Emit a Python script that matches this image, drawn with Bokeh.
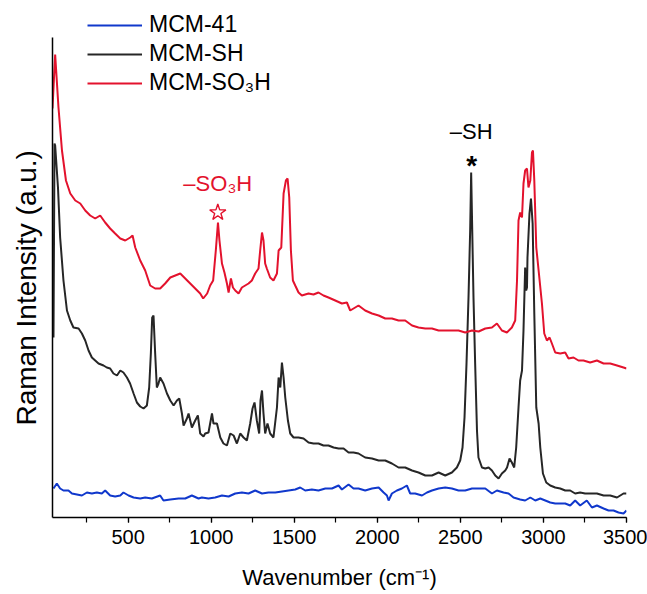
from bokeh.plotting import figure
from bokeh.models import Range1d, SingleIntervalTicker, FixedTicker, Legend, LegendItem, Title
from bokeh.core.properties import value
from bokeh.embed import file_html
from bokeh.resources import INLINE

# Raman spectra (wavenumber in cm^-1, intensity in a.u., stacked with offsets)
so3h_wn = [45, 61, 81, 102, 126, 152, 182, 212, 242, 272, 302, 332, 362, 392, 422, 453, 483, 513, 527,
           543, 573, 603, 633, 663, 693, 723, 754, 784, 814, 844, 874, 904, 934, 952, 976, 994, 1012,
           1028, 1041, 1050, 1065, 1080, 1095, 1105, 1119, 1131, 1145, 1165, 1185, 1205, 1225, 1245,
           1265, 1285, 1295, 1306, 1315, 1325, 1335, 1355, 1375, 1396, 1406, 1422, 1436, 1450, 1460,
           1470, 1480, 1492, 1506, 1526, 1546, 1586, 1616, 1646, 1676, 1706, 1747, 1787, 1817, 1837,
           1857, 1887, 1927, 1968, 2008, 2048, 2088, 2128, 2168, 2209, 2248, 2289, 2329, 2369, 2409,
           2449, 2489, 2529, 2570, 2610, 2650, 2690, 2720, 2750, 2780, 2810, 2830, 2841, 2850, 2860,
           2871, 2880, 2890, 2901, 2910, 2921, 2931, 2937, 2945, 2957, 2971, 2991, 3005, 3021, 3037,
           3051, 3071, 3101, 3131, 3151, 3181, 3211, 3241, 3281, 3322, 3362, 3402, 3443, 3482, 3500]
so3h_int = [409, 463, 410, 367, 337, 324, 317, 314, 307, 302, 299, 302, 295, 289, 284, 279, 277, 280, 282,
            270, 257, 247, 232, 229, 229, 234, 240, 242, 244, 239, 234, 229, 224, 219, 224, 232, 237,
            267, 295, 277, 254, 245, 234, 225, 239, 230, 227, 224, 230, 232, 234, 237,
            244, 249, 267, 285, 277, 254, 249, 240, 237, 244, 267, 270, 324, 337, 339,
            320, 267, 237, 232, 225, 222, 224, 223, 225, 222, 220, 217, 214, 215, 207,
            209, 212, 207, 204, 202, 199, 199, 197, 197, 192, 190, 189, 189, 187, 187,
            187, 187, 185, 187, 186, 189, 190, 194, 187, 185, 190, 197, 237, 297, 305,
            300, 334, 347, 349, 330, 337, 365, 367, 337, 270, 247, 214, 184, 177, 180,
            174, 165, 164, 165, 159, 160, 157, 157, 155, 157, 154, 154, 152, 150, 149]

sh_wn = [51, 57, 61, 78, 91, 111, 132, 152, 171, 202, 222, 242, 262, 282, 302, 322, 352, 372, 392, 412,
         433, 453, 472, 493, 512, 533, 553, 573, 593, 613, 627, 637, 645, 653, 663, 673, 683, 693, 713,
         734, 754, 774, 794, 808, 824, 834, 854, 864, 884, 904, 920, 934, 954, 964, 984, 1005, 1014,
         1035, 1055, 1074, 1095, 1115, 1135, 1155, 1175, 1195, 1215, 1235, 1249, 1261, 1275, 1289,
         1297, 1306, 1315, 1325, 1339, 1355, 1375, 1396, 1406, 1416, 1426, 1436, 1446, 1462, 1476,
         1496, 1526, 1556, 1586, 1616, 1646, 1676, 1706, 1737, 1767, 1797, 1827, 1857, 1887, 1927,
         1968, 2008, 2048, 2088, 2128, 2168, 2209, 2248, 2289, 2329, 2369, 2409, 2449, 2479, 2499,
         2513, 2525, 2537, 2549, 2559, 2565, 2579, 2589, 2600, 2609, 2630, 2650, 2670, 2690, 2710,
         2730, 2750, 2770, 2781, 2796, 2810, 2824, 2836, 2850, 2860, 2871, 2880, 2890, 2896, 2901,
         2904, 2916, 2925, 2935, 2945, 2957, 2971, 2981, 2997, 3017, 3041, 3071, 3101, 3131, 3161,
         3191, 3221, 3251, 3281, 3322, 3362, 3402, 3443, 3482, 3500]
sh_int = [180, 374, 372, 330, 280, 237, 207, 197, 190, 189, 184, 177, 167, 160, 157, 154, 152, 150, 149, 144,
          142, 147, 145, 140, 134, 124, 115, 111, 109, 112, 130, 164, 200, 202, 164, 130, 134, 140, 134,
          124, 117, 112, 117, 119, 104, 92, 99, 104, 90, 97, 102, 84, 81, 84, 85, 104, 94,
          94, 80, 74, 72, 84, 82, 74, 84, 80, 77, 94, 109, 115, 97, 84,
          117, 127, 104, 84, 94, 84, 80, 110, 140, 130, 155, 140, 120, 97, 84,
          80, 80, 79, 75, 74, 74, 72, 72, 70, 69, 69, 65, 65, 64, 60,
          59, 57, 57, 54, 50, 50, 47, 45, 42, 42, 45, 42, 45, 50, 57,
          70, 100, 154, 220, 287, 345, 220, 154, 87, 60, 50, 49, 50, 47, 42,
          39, 44, 47, 50, 59, 55, 50, 70, 110, 137, 147, 187, 250, 227, 230,
          260, 304, 319, 294, 204, 110, 94, 70, 44, 35, 32, 30, 29, 27, 27,
          24, 25, 24, 24, 24, 22, 22, 20, 24, 24]

mcm41_wn = [51, 71, 91, 111, 141, 162, 192, 222, 252, 282, 312, 342, 362, 392, 422, 453, 472, 503, 533,
            573, 603, 643, 693, 713, 754, 804, 844, 884, 924, 944, 984, 1024, 1065, 1105, 1145, 1185,
            1225, 1265, 1306, 1345, 1386, 1426, 1466, 1506, 1536, 1566, 1606, 1646, 1687, 1727, 1767,
            1787, 1827, 1857, 1887, 1927, 1968, 2008, 2038, 2058, 2068, 2088, 2118, 2148, 2178, 2198,
            2228, 2269, 2299, 2329, 2369, 2409, 2449, 2489, 2529, 2570, 2610, 2650, 2690, 2720, 2760,
            2790, 2820, 2860, 2890, 2921, 2951, 2981, 3011, 3041, 3071, 3101, 3131, 3161, 3191, 3221,
            3261, 3292, 3322, 3362, 3392, 3422, 3452, 3482, 3500]
mcm41_int = [29, 34, 29, 27, 27, 24, 23, 22, 25, 24, 25, 24, 27, 22, 21, 22, 25, 22, 20,
             19, 20, 19, 22, 17, 18, 19, 19, 22, 19, 20, 19, 20, 22, 21, 24, 25,
             24, 27, 24, 25, 25, 26, 27, 28, 30, 27, 28, 27, 29, 29, 32,
             28, 33, 29, 29, 27, 29, 30, 25, 22, 17, 24, 27, 29, 32, 24,
             24, 22, 25, 27, 29, 30, 29, 27, 27, 29, 29, 29, 24, 27, 25,
             24, 20, 18, 17, 20, 17, 19, 17, 15, 14, 14, 14, 12, 17, 12,
             17, 10, 12, 9, 7, 7, 5, 4, 7]

series_names = ["MCM-41", "MCM-SH", "MCM-SO\u2083H"]
series_colors = ["#1038cc", "#262626", "#e3122d"]

xtick_interval = 500
FONT = "Liberation Sans"

p = figure(width=647, height=594, output_backend="svg", toolbar_location=None,
           x_range=Range1d(45, 3500), y_range=Range1d(0, 517),
           min_border_left=52, min_border_right=21, min_border_top=0, min_border_bottom=77)
p.outline_line_color = None
p.xgrid.visible = False
p.ygrid.visible = False
p.background_fill_color = "white"

r_blue = p.line(mcm41_wn, mcm41_int, line_color=series_colors[0], line_width=2)
r_black = p.line(sh_wn, sh_int, line_color=series_colors[1], line_width=2)
r_red = p.line(so3h_wn, so3h_int, line_color=series_colors[2], line_width=2)

# peak markers
p.scatter([1040], [305], marker="star", size=17, fill_alpha=0,
          line_color=series_colors[2], line_width=1.4)
p.text([1040], [334], text=["\u2013SO\u2083H"], text_color=series_colors[2],
       text_font=value(FONT), text_font_size="22px", text_align="center", text_baseline="middle")
p.text([2565], [386], text=["\u2013SH"], text_color="black",
       text_font=value(FONT), text_font_size="22px", text_align="center", text_baseline="middle")
p.text([2568], [352], text=["*"], text_color="black", text_font_style="bold",
       text_font=value(FONT), text_font_size="28px", text_align="center", text_baseline="middle")

# axes
xa = p.xaxis[0]
xa.ticker = SingleIntervalTicker(interval=xtick_interval, num_minor_ticks=2)
xa.axis_label = "Wavenumber (cm\u207b\u00b9)"
xa.axis_label_text_font = FONT
xa.axis_label_text_font_style = "normal"
xa.axis_label_text_font_size = "22px"
xa.axis_label_text_color = "black"
xa.axis_label_standoff = 18
xa.major_label_text_font = FONT
xa.major_label_text_font_size = "20px"
xa.major_label_text_color = "black"
xa.major_label_standoff = 7
xa.major_tick_out = 5
xa.major_tick_in = 0
xa.minor_tick_out = 5
xa.minor_tick_in = 0
xa.axis_line_width = 1.5
xa.major_tick_line_width = 1.2
xa.minor_tick_line_width = 1.2

ya = p.yaxis[0]
ya.ticker = FixedTicker(ticks=[])
ya.bounds = (0, 480)
ya.axis_line_width = 1.5
ya.major_tick_out = 0
ya.minor_tick_out = 0

# y-axis title, centred on the visible spine
p.add_layout(Title(text="Raman Intensity (a.u.)", align="left", offset=92, vertical_align="top",
                   text_color="black", text_font=FONT, text_font_size="28px",
                   text_font_style="normal", standoff=18), "left")

legend = Legend(items=[LegendItem(label=series_names[0], renderers=[r_blue]),
                       LegendItem(label=series_names[1], renderers=[r_black]),
                       LegendItem(label=series_names[2], renderers=[r_red])],
                location=(35, 421), padding=0, margin=0, spacing=2,
                glyph_width=55, glyph_height=24, label_height=24, label_standoff=7,
                label_text_font=FONT, label_text_font_size="23px", label_text_color="black",
                border_line_alpha=0, background_fill_alpha=0)
p.add_layout(legend)

open("out.html", "w").write(file_html(p, INLINE))
